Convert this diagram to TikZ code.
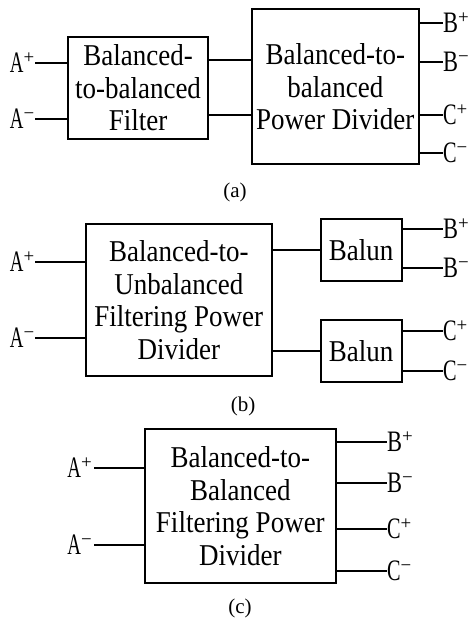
\documentclass[tikz,border=0pt]{standalone}
\usepackage{fontspec}
\setmainfont{Liberation Serif}
\newcommand\plab[3]{\scalebox{#1}[1.1]{#2}\textsuperscript{#3}}
\newcommand\tl[1]{\scalebox{1}[1.12]{#1}}
\begin{document}
\begin{tikzpicture}[x=1pt,y=-1pt,
  box/.style={draw, line width=1.8pt, inner sep=0pt, align=center, font=\fontsize{27}{32.5}\selectfont},
  lbl/.style={inner sep=0pt, text height=19pt, text depth=0pt, font=\fontsize{27}{27}\selectfont},
  capt/.style={font=\fontsize{21}{21}\selectfont, inner sep=0pt},
  wire/.style={line width=1.8pt}]
\useasboundingbox (0,0) rectangle (470,621);

% ---------------- (a)
\node[box, minimum width=140.6pt, minimum height=102.6pt] (filt) at (138,88) {\tl{Balanced-}\\\tl{to-balanced}\\\tl{Filter}};
\node[box, minimum width=167.3pt, minimum height=155pt] (div) at (335.3,86.8) {\tl{Balanced-to-}\\\tl{balanced}\\\tl{Power Divider}};
\node[lbl, anchor=east] (aap) at (35,63.3) {\plab{0.7}{A}{+}};
\node[lbl, anchor=east] (aam) at (35,119) {\plab{0.7}{A}{−}};
\draw[wire] (aap.east) -- (aap.east -| filt.west);
\draw[wire] (aam.east) -- (aam.east -| filt.west);
\coordinate (a1) at (0,60);
\coordinate (a2) at (0,115);
\draw[wire] (filt.east |- a1) -- (div.west |- a1);
\draw[wire] (filt.east |- a2) -- (div.west |- a2);
\node[lbl, anchor=west] (abp) at (443,23.3) {\plab{0.83}{B}{+}};
\node[lbl, anchor=west] (abm) at (443,61.7) {\plab{0.83}{B}{−}};
\node[lbl, anchor=west] (acp) at (443,115) {\plab{0.75}{C}{+}};
\node[lbl, anchor=west] (acm) at (443,152.7) {\plab{0.75}{C}{−}};
\foreach \n in {abp,abm,acp,acm}{\draw[wire] (div.east |- \n.west) -- (\n.west);}
\node[capt] (capa) at (235,192) {(a)};

% ---------------- (b)
\node[box, minimum width=185.7pt, minimum height=152pt] (bdiv) at (178.8,300) {\tl{Balanced-to-}\\\tl{Unbalanced}\\\tl{Filtering Power}\\\tl{Divider}};
\node[box, minimum width=81pt, minimum height=61.7pt] (bal1) at (361.2,249.85) {\tl{Balun}};
\node[box, minimum width=81pt, minimum height=61.7pt] (bal2) at (361.2,350.85) {\tl{Balun}};
\node[lbl, anchor=east] (bap) at (35,262.3) {\plab{0.7}{A}{+}};
\node[lbl, anchor=east] (bam) at (35,337.7) {\plab{0.7}{A}{−}};
\draw[wire] (bap.east) -- (bap.east -| bdiv.west);
\draw[wire] (bam.east) -- (bam.east -| bdiv.west);
\coordinate (b1) at (0,250);
\coordinate (b2) at (0,351);
\draw[wire] (bdiv.east |- b1) -- (bal1.west |- b1);
\draw[wire] (bdiv.east |- b2) -- (bal2.west |- b2);
\node[lbl, anchor=west] (bbp) at (443,229) {\plab{0.83}{B}{+}};
\node[lbl, anchor=west] (bbm) at (443,268.3) {\plab{0.83}{B}{−}};
\node[lbl, anchor=west] (bcp) at (443,330.7) {\plab{0.75}{C}{+}};
\node[lbl, anchor=west] (bcm) at (443,370.7) {\plab{0.75}{C}{−}};
\draw[wire] (bal1.east |- bbp.west) -- (bbp.west);
\draw[wire] (bal1.east |- bbm.west) -- (bbm.west);
\draw[wire] (bal2.east |- bcp.west) -- (bcp.west);
\draw[wire] (bal2.east |- bcm.west) -- (bcm.west);
\node[capt] (capb) at (243,406.7) {(b)};

% ---------------- (c)
\node[box, minimum width=190.7pt, minimum height=154pt] (cdiv) at (240.35,506.3) {\tl{Balanced-to-}\\\tl{Balanced}\\\tl{Filtering Power}\\\tl{Divider}};
\node[lbl, anchor=east, outer sep=2pt] (cap) at (94.3,468.3) {\plab{0.7}{A}{+}};
\node[lbl, anchor=east, outer sep=2pt] (cam) at (94.3,545) {\plab{0.7}{A}{−}};
\draw[wire] (cap.east) -- (cap.east -| cdiv.west);
\draw[wire] (cam.east) -- (cam.east -| cdiv.west);
\node[lbl, anchor=west] (cbp) at (387,442.3) {\plab{0.83}{B}{+}};
\node[lbl, anchor=west] (cbm) at (387,482.7) {\plab{0.83}{B}{−}};
\node[lbl, anchor=west] (ccp) at (387,529) {\plab{0.75}{C}{+}};
\node[lbl, anchor=west] (ccm) at (387,570.7) {\plab{0.75}{C}{−}};
\foreach \n in {cbp,cbm,ccp,ccm}{\draw[wire] (cdiv.east |- \n.west) -- (\n.west);}
\node[capt] (capc) at (240,608.3) {(c)};
\end{tikzpicture}
\end{document}
